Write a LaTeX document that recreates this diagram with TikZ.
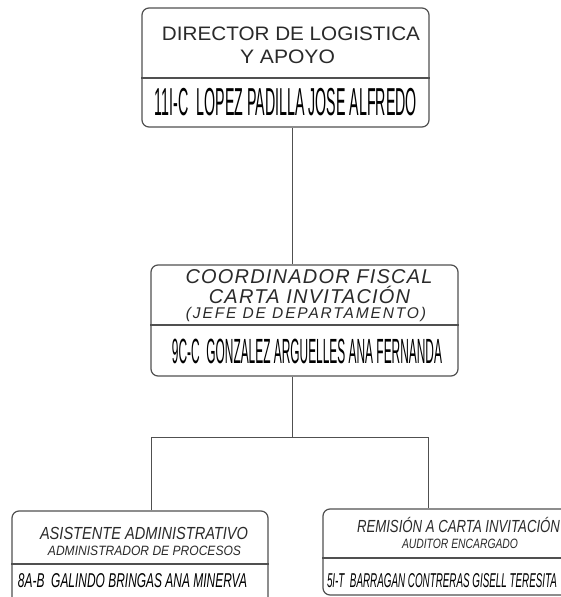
\documentclass[tikz,border=0pt]{standalone}
\usepackage{fontspec}
\setmainfont{Liberation Sans}
\usepackage{graphicx}
\definecolor{boxgray}{HTML}{505050}
\definecolor{inkgray}{HTML}{2A2A2A}
% squeeze a line to a given width, keeping its height
\newcommand{\fitline}[3]{\resizebox{#1}{\height}{\fontsize{#2}{#2}\selectfont #3}}
\newcommand{\spaced}[3]{{\fontsize{#1}{#1}\selectfont\addfontfeatures{LetterSpace=#2}#3}}

\tikzset{
  cargo/.style={draw=boxgray, line width=1.2pt, rounded corners=7pt},
  linea/.style={draw=boxgray, line width=1pt},
  txt/.style={anchor=base, inner sep=0pt, text=inkgray},
}

\begin{document}
\begin{tikzpicture}[x=1pt, y=-1pt]
  \useasboundingbox[fill=white] (0,0) rectangle (561,597);

  % boxes
  \node[cargo, minimum width=287pt, minimum height=119pt] (dir) at (285.5,67.5) {};
  \node[cargo, minimum width=307pt, minimum height=111pt] (coord) at (304.5,320.5) {};
  \node[cargo, minimum width=256pt, minimum height=99pt] (asis) at (140,560.5) {};
  \node[cargo, minimum width=245pt, minimum height=86pt] (remi) at (445.5,552) {};

  % dividers
  \draw[linea, line width=1.2pt] (dir.west |- 0,78) -- (dir.east |- 0,78);
  \draw[linea, line width=1.2pt] (coord.west |- 0,325) -- (coord.east |- 0,325);
  \draw[linea, line width=1.2pt] (asis.west |- 0,564) -- (asis.east |- 0,564);
  \draw[linea, line width=1.2pt] (remi.west |- 0,558) -- (remi.east |- 0,558);

  % director
  \node[txt] (dir1) at (291,40) {\fitline{258pt}{19.5}{DIRECTOR DE LOGISTICA}};
  \node[txt] (dir2) at (287.5,63) {\fitline{95pt}{19.5}{Y APOYO}};
  \node[txt, text=black] (dirname) at (286,115) {\fitline{262pt}{39}{11I-C\ \ LOPEZ PADILLA JOSE ALFREDO}};

  % coordinador
  \node[txt, font=\itshape] (coord1) at (309,283) {\spaced{20}{6}{COORDINADOR FISCAL}};
  \node[txt, font=\itshape] (coord2) at (309.5,303) {\spaced{20}{6}{CARTA INVITACIÓN}};
  \node[txt, font=\itshape] (coord3) at (306,318) {\spaced{15.5}{12}{(JEFE DE DEPARTAMENTO)}};
  \node[txt, text=black] (coordname) at (307,363) {\fitline{270pt}{35}{9C-C\ \ GONZALEZ ARGUELLES ANA FERNANDA}};

  % asistente
  \node[txt, font=\itshape] (asis1) at (144,539) {\fitline{208pt}{17.5}{ASISTENTE ADMINISTRATIVO}};
  \node[txt, font=\itshape] (asis2) at (144.5,555) {\fitline{193pt}{13.5}{ADMINISTRADOR DE PROCESOS}};
  \node[txt, font=\itshape, text=black] (asisname) at (132.5,587) {\fitline{229pt}{20}{8A-B\ \ GALINDO BRINGAS ANA MINERVA}};

  % remision
  \node[txt, font=\itshape] (remi1) at (458.5,532) {\fitline{203pt}{17.5}{REMISIÓN A CARTA INVITACIÓN}};
  \node[txt, font=\itshape] (remi2) at (460,548) {\fitline{116pt}{13.5}{AUDITOR ENCARGADO}};
  \node[txt, font=\itshape, text=black] (reminame) at (442,587) {\fitline{230pt}{20}{5I-T\ \ BARRAGAN CONTRERAS GISELL TERESITA}};

  % connectors
  \coordinate (trunk) at (292,437);
  \coordinate (busL) at (151,437);
  \coordinate (busR) at (428,437);
  \draw[linea] (trunk |- dir.south) -- (trunk |- coord.north);
  \draw[linea] (trunk |- coord.south) -- (trunk);
  \draw[linea] (busL |- asis.north) -- (busL) -- (busR) -- (busR |- remi.north);
\end{tikzpicture}
\end{document}
